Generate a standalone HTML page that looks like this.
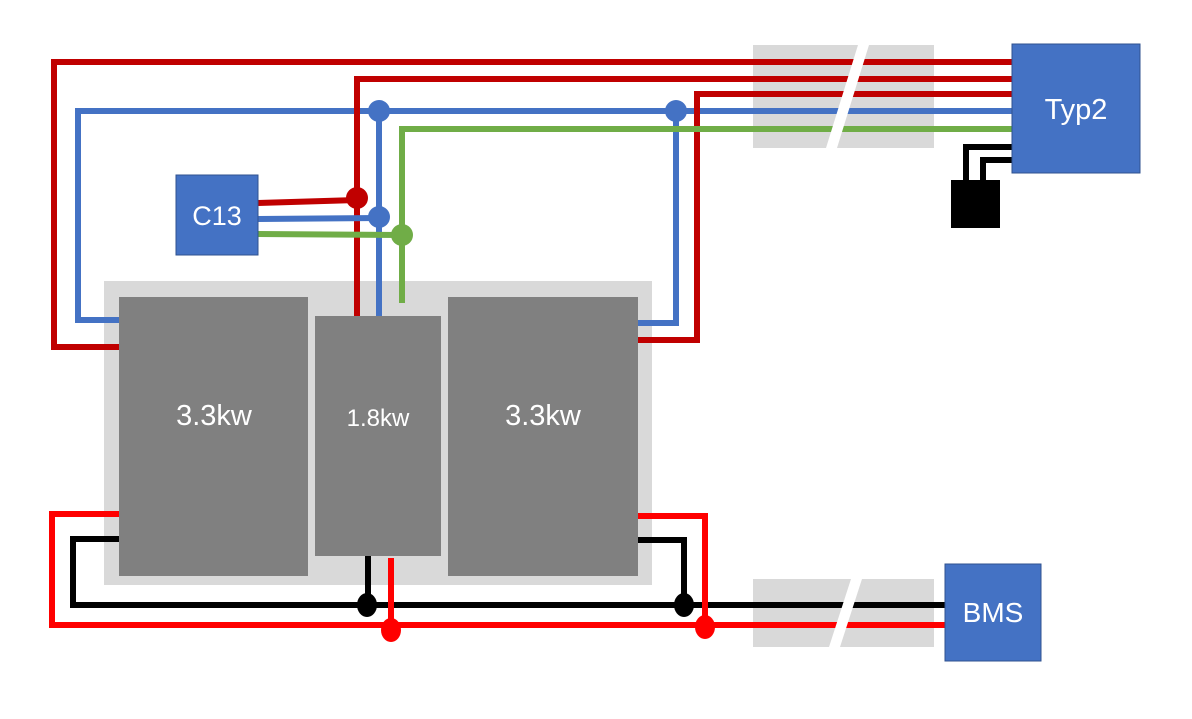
<!DOCTYPE html>
<html><head><style>body{margin:0;background:#fff}svg{display:block}text{font-family:"Liberation Sans",sans-serif;fill:#fff}</style></head><body>
<svg width="1192" height="719" viewBox="0 0 1192 719" xmlns="http://www.w3.org/2000/svg">
<rect x="104" y="281" width="548" height="304" fill="#d9d9d9"/>
<rect x="753" y="45" width="181" height="103" fill="#d9d9d9"/>
<rect x="753" y="579" width="181" height="68" fill="#d9d9d9"/>
<g fill="none" stroke-width="6" stroke-linejoin="miter" stroke-linecap="butt">
<polyline stroke="#C00000" points="1012,62 54,62 54,347 120,347"/>
<polyline stroke="#4472C4" points="1012,111 78,111 78,320 120,320"/>
<polyline stroke="#C00000" points="1012,79 357,79 357,316"/>
<polyline stroke="#C00000" points="1012,94 697,94 697,340 638,340"/>
<polyline stroke="#4472C4" points="676,111 676,323 638,323"/>
<polyline stroke="#4472C4" points="379,111 379,316"/>
<polyline stroke="#70AD47" points="1012,129 402,129 402,303"/>
<polyline stroke="#C00000" points="258,203 357,200"/>
<polyline stroke="#4472C4" points="258,219 379,218"/>
<polyline stroke="#70AD47" points="258,234 402,235"/>
<polyline stroke="#000" points="1012,147 966,147 966,182"/>
<polyline stroke="#000" points="1012,160 983,160 983,182"/>
<polyline stroke="#FF0000" points="119,514 52,514 52,625 945,625"/>
<polyline stroke="#000" points="119,539 73,539 73,605 945,605"/>
<polyline stroke="#000" points="368,556 368,605"/>
<polyline stroke="#FF0000" points="391,558 391,630"/>
<polyline stroke="#FF0000" points="638,516 705,516 705,625"/>
<polyline stroke="#000" points="638,540 684,540 684,605"/>
</g>
<polygon points="858,45 869,45 837,148 826,148" fill="#fff"/>
<polygon points="851,579 862,579 840,647 829,647" fill="#fff"/>
<circle cx="379" cy="111" r="11" fill="#4472C4"/>
<circle cx="676" cy="111" r="11" fill="#4472C4"/>
<circle cx="357" cy="198" r="11" fill="#C00000"/>
<circle cx="379" cy="217" r="11" fill="#4472C4"/>
<circle cx="402" cy="235" r="11" fill="#70AD47"/>
<ellipse cx="367" cy="605" rx="10" ry="12" fill="#000"/>
<ellipse cx="684" cy="605" rx="10" ry="12" fill="#000"/>
<ellipse cx="391" cy="630" rx="10" ry="12" fill="#FF0000"/>
<ellipse cx="705" cy="627" rx="10" ry="12" fill="#FF0000"/>
<rect x="951" y="180" width="49" height="48" fill="#000"/>
<rect x="119" y="297" width="189" height="279" fill="#808080"/>
<rect x="315" y="316" width="126" height="240" fill="#808080"/>
<rect x="448" y="297" width="190" height="279" fill="#808080"/>
<rect x="176" y="175" width="82" height="80" fill="#4472C4" stroke="#2f528f" stroke-width="1"/>
<rect x="1012" y="44" width="128" height="129" fill="#4472C4" stroke="#2f528f" stroke-width="1"/>
<rect x="945" y="564" width="96" height="97" fill="#4472C4" stroke="#2f528f" stroke-width="1"/>
<text x="217" y="225" font-size="27" text-anchor="middle">C13</text>
<text x="1076" y="119" font-size="29" text-anchor="middle">Typ2</text>
<text x="993" y="622" font-size="28" text-anchor="middle">BMS</text>
<text x="214" y="425" font-size="29" text-anchor="middle">3.3kw</text>
<text x="378" y="426" font-size="24" text-anchor="middle">1.8kw</text>
<text x="543" y="425" font-size="29" text-anchor="middle">3.3kw</text>
</svg>
</body></html>
